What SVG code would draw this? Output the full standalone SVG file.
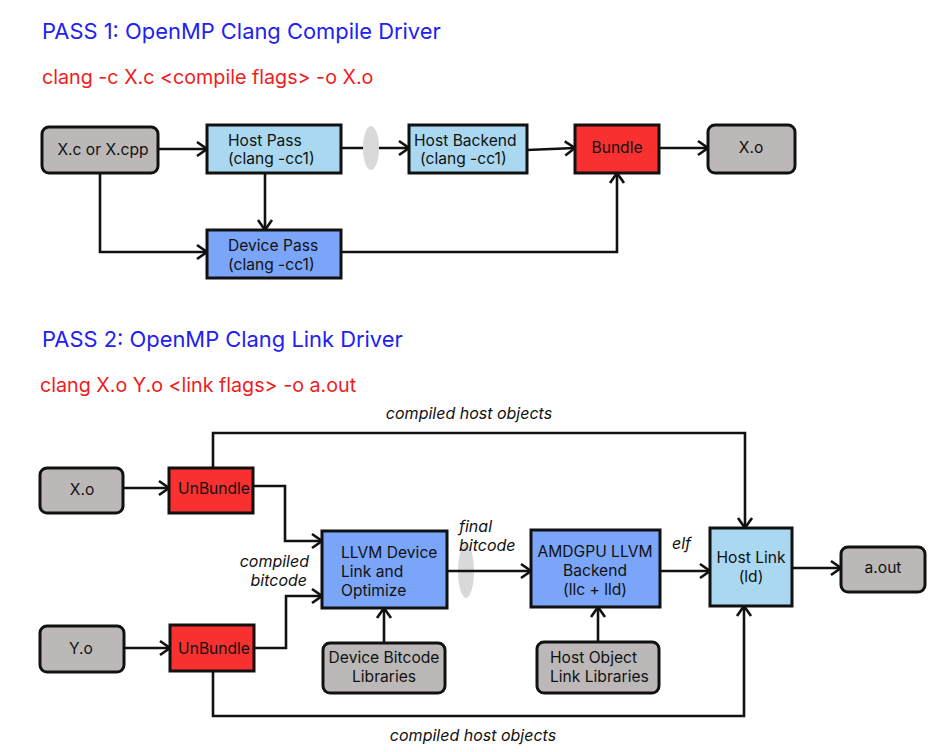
<svg xmlns="http://www.w3.org/2000/svg" width="939" height="752" viewBox="0 0 939 752">
<style>
text{font-family:Inter,"Noto Sans","Liberation Sans",sans-serif;fill:#111}
.t{font-size:15.6px}
.c{text-anchor:middle}
.it{font-size:16px;font-style:italic}
.ttl{font-size:21.9px;fill:#2121f0}
.cmd{font-size:19.7px;fill:#f01c1c}
.n{stroke:#111;stroke-width:3}
.gray{fill:#bcb8b8}
.lb{fill:#a9d8f0}
.bl{fill:#7aa5f8}
.red{fill:#f83030}
.e{fill:#d9d9d9}
#conn path{fill:none;stroke:#111;stroke-width:2.6;marker-end:url(#a)}
</style>
<defs>
<marker id="a" markerUnits="userSpaceOnUse" markerWidth="14" markerHeight="18" refX="12" refY="9" orient="auto">
<path d="M2,2 L12,9 L2,16" fill="none" stroke="#111" stroke-width="2.6"/>
</marker>
</defs>
<rect width="939" height="752" fill="#fff"/>
<text class="ttl" x="42" y="39">PASS 1: OpenMP Clang Compile Driver</text>
<text class="cmd" x="42" y="84">clang -c X.c &lt;compile flags&gt; -o X.o</text>
<text class="ttl" x="42" y="347">PASS 2: OpenMP Clang Link Driver</text>
<text class="cmd" x="40" y="392">clang X.o Y.o &lt;link flags&gt; -o a.out</text>

<ellipse class="e" cx="466" cy="571" rx="8" ry="27"/>
<g id="conn">
<path d="M158,149 H207"/>
<path d="M100,173 V252 H207"/>
<path d="M265,173 V230"/>
<path d="M341,148 H409"/>
<path d="M527,150 L575,148"/>
<path d="M659,148 H708"/>
<path d="M341,252 H617 V173"/>
<path d="M123,488 H169"/>
<path d="M124,648 H170"/>
<path d="M213,468 V433 H745 V528"/>
<path d="M253,486 H285 V541 H322"/>
<path d="M254,648 H286 V596 H322"/>
<path d="M213,671 V716 H744 V606"/>
<path d="M447,571 H531"/>
<path d="M660,571 H710"/>
<path d="M792,568 H841"/>
<path d="M384,643 V608"/>
<path d="M598,642 V607"/>
</g>
<ellipse class="e" cx="371" cy="148" rx="8" ry="22"/>

<g id="xc"><rect class="n gray" x="42" y="127" width="116" height="46" rx="7"/><text class="t c" x="103" y="155">X.c or X.cpp</text></g>
<g id="hostpass"><rect class="n lb" x="207" y="125" width="134" height="48"/><text class="t" x="228" y="146">Host Pass</text><text class="t" x="228" y="164">(clang -cc1)</text></g>
<g id="hostbackend"><rect class="n lb" x="409" y="125" width="118" height="48"/><text class="t" x="414" y="146">Host Backend</text><text class="t" x="420" y="164">(clang -cc1)</text></g>
<g id="bundle"><rect class="n red" x="575" y="125" width="84" height="48"/><text class="t c" x="617" y="153">Bundle</text></g>
<g id="xo1"><rect class="n gray" x="708" y="125" width="87" height="48" rx="7"/><text class="t c" x="751" y="153">X.o</text></g>
<g id="devicepass"><rect class="n bl" x="207" y="230" width="134" height="48"/><text class="t" x="228" y="251">Device Pass</text><text class="t" x="228" y="270">(clang -cc1)</text></g>

<g id="xo2"><rect class="n gray" x="40" y="468" width="83" height="45" rx="7"/><text class="t c" x="82" y="495">X.o</text></g>
<g id="unbundle1"><rect class="n red" x="169" y="468" width="84" height="45"/><text class="t c" x="214" y="494">UnBundle</text></g>
<g id="yo"><rect class="n gray" x="40" y="626" width="84" height="46" rx="7"/><text class="t c" x="81" y="654">Y.o</text></g>
<g id="unbundle2"><rect class="n red" x="170" y="625" width="84" height="46"/><text class="t c" x="214" y="654">UnBundle</text></g>
<g id="llvmlink"><rect class="n bl" x="322" y="531" width="125" height="77"/><text class="t" x="341" y="558">LLVM Device</text><text class="t" x="341" y="577">Link and</text><text class="t" x="341" y="596">Optimize</text></g>
<g id="devbc"><rect class="n gray" x="323" y="643" width="122" height="50" rx="7"/><text class="t c" x="384" y="663">Device Bitcode</text><text class="t c" x="384" y="682">Libraries</text></g>
<g id="amdgpu"><rect class="n bl" x="531" y="530" width="129" height="77"/><text class="t c" x="595" y="557">AMDGPU LLVM</text><text class="t c" x="595" y="576">Backend</text><text class="t c" x="595" y="595">(llc + lld)</text></g>
<g id="hostobj"><rect class="n gray" x="537" y="642" width="122" height="51" rx="7"/><text class="t" x="550" y="663">Host Object</text><text class="t" x="550" y="682">Link Libraries</text></g>
<g id="hostlink"><rect class="n lb" x="710" y="528" width="82" height="78"/><text class="t c" x="751" y="563">Host Link</text><text class="t c" x="751" y="582">(ld)</text></g>
<g id="aout"><rect class="n gray" x="841" y="547" width="84" height="45" rx="7"/><text class="t c" x="883" y="573">a.out</text></g>

<g id="labels">
<text class="it c" x="469" y="419">compiled host objects</text>
<text class="it c" x="473" y="741">compiled host objects</text>
<text class="it" x="459" y="532">final</text>
<text class="it" x="459" y="551">bitcode</text>
<text class="it" x="672" y="549">elf</text>
<text class="it" x="309" y="567" text-anchor="end">compiled</text>
<text class="it" x="307" y="586" text-anchor="end">bitcode</text>
</g>
</svg>
